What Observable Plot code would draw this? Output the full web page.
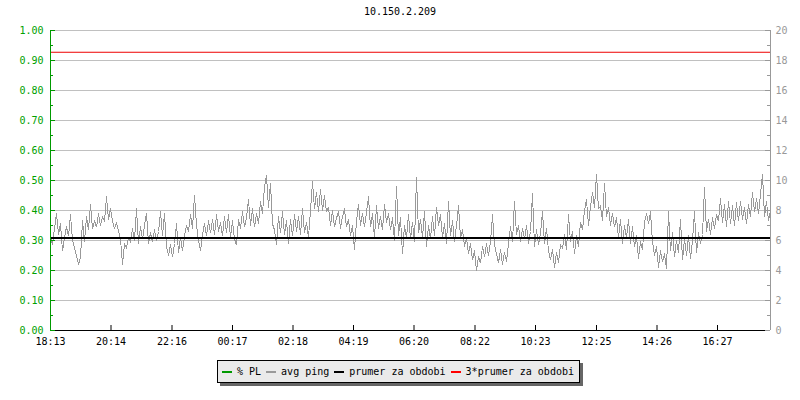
<!DOCTYPE html>
<html>
<head>
<meta charset="utf-8">
<script src="https://cdn.jsdelivr.net/npm/d3@7"></script>
<script src="https://cdn.jsdelivr.net/npm/@observablehq/plot@0.6"></script>
<style>
  html, body { margin: 0; padding: 0; background: #fff; }
  #wrap { position: relative; width: 800px; height: 400px; font-family: "DejaVu Sans Mono", monospace; font-size: 10px; }
  #title { position: absolute; left: 0; top: 6px; width: 800px; text-align: center; color: #000; }
  #legend { position: absolute; left: 217px; top: 360px; height: 21px; width: 361px; box-sizing: content-box;
            background: #eaeaea; border: 1px solid #000; box-shadow: 3px 3px 0 #666; display: flex; align-items: center;
            padding-left: 0; }
  .item { display: flex; align-items: center; margin-left: 4px; margin-right: 1px; white-space: pre; }
  .sw { width: 10px; height: 2px; margin-right: 5px; }
</style>
</head>
<body>
<div id="wrap">
  <div id="chart"></div>
  <div id="title"></div>
  <div id="legend"></div>
</div>
<script>
// ---- data ----
const title = "10.150.2.209";
const stepMinutes = 4;           // sampling interval of the series
const spanMinutes = 1440;        // 24 h window
const avgPing = [
  6.3, 5.7, 6.8, 7.8, 6.4, 7.1, 5.3, 6.2, 6.9, 6.3,
  7.7, 6.0, 5.5, 5.0, 4.4, 4.9, 7.3, 5.9, 7.6, 6.7,
  8.4, 6.8, 7.3, 6.9, 7.8, 7.0, 7.6, 7.3, 8.9, 7.4,
  8.1, 7.3, 6.8, 7.2, 6.6, 6.1, 4.4, 5.8, 5.5, 6.2,
  5.9, 6.8, 6.0, 8.1, 5.8, 6.9, 6.1, 7.0, 7.8, 5.8,
  6.5, 5.9, 6.7, 6.0, 6.6, 7.9, 6.3, 7.8, 5.6, 5.0,
  5.7, 4.9, 5.8, 7.1, 5.2, 6.2, 5.3, 6.3, 7.0, 6.6,
  7.7, 6.8, 9.0, 7.0, 6.0, 5.3, 6.4, 7.1, 6.3, 7.3,
  6.5, 7.4, 6.4, 7.7, 6.6, 7.2, 6.3, 7.6, 6.5, 7.7,
  6.2, 7.3, 6.1, 5.7, 7.4, 6.8, 7.9, 6.9, 7.5, 8.7,
  7.0, 8.1, 6.9, 7.8, 7.1, 8.6, 7.8, 9.6, 10.3, 8.2,
  9.8, 7.1, 6.7, 5.7, 7.6, 6.5, 7.9, 6.4, 7.3, 5.8,
  7.4, 6.3, 7.7, 6.6, 7.6, 6.4, 8.1, 6.5, 7.2, 6.2,
  8.0, 9.9, 8.1, 9.2, 7.9, 9.4, 8.0, 9.0, 7.9, 8.2,
  7.0, 8.0, 6.9, 7.5, 7.9, 6.8, 7.6, 8.1, 6.9, 7.4,
  6.3, 7.0, 5.4, 7.3, 8.4, 7.0, 7.8, 6.9, 7.9, 8.9,
  6.9, 7.8, 6.2, 8.3, 6.8, 7.6, 6.7, 8.4, 7.2, 7.8,
  6.7, 7.5, 6.0, 9.6, 6.3, 7.5, 5.1, 7.0, 6.2, 7.7,
  6.1, 7.2, 5.9, 10.2, 6.5, 7.4, 6.2, 7.9, 5.6, 7.0,
  6.1, 7.6, 6.3, 8.2, 7.0, 7.7, 6.2, 7.1, 5.8, 8.6,
  6.3, 7.3, 5.9, 7.0, 8.3, 6.2, 6.7, 5.6, 6.2, 5.1,
  5.8, 4.7, 5.3, 4.0, 4.9, 4.5, 5.6, 4.9, 5.8, 5.0,
  5.9, 7.7, 5.7, 5.1, 4.5, 5.4, 4.4, 5.2, 4.6, 5.8,
  6.9, 5.9, 8.6, 6.4, 7.0, 5.9, 6.8, 6.1, 7.0, 5.8,
  6.6, 9.1, 5.6, 6.7, 5.7, 6.5, 7.9, 5.8, 6.8, 5.3,
  4.7, 5.4, 4.2, 5.2, 4.5, 5.7, 5.5, 6.4, 5.4, 7.7,
  5.9, 6.6, 5.1, 6.3, 5.6, 7.2, 6.7, 8.0, 8.7, 7.0,
  8.3, 9.2, 8.2, 10.4, 8.1, 8.3, 7.3, 9.8, 7.6, 8.2,
  7.0, 7.8, 6.9, 7.5, 6.2, 7.4, 5.8, 7.0, 6.2, 7.4,
  5.8, 6.9, 5.6, 6.3, 4.8, 5.9, 5.4, 7.2, 7.8, 7.1,
  7.9, 5.9, 5.0, 5.6, 4.2, 5.3, 4.6, 5.1, 4.1, 7.9,
  5.3, 6.5, 4.9, 6.0, 5.2, 7.4, 4.7, 6.1, 5.0, 6.3,
  4.8, 6.0, 7.9, 5.2, 6.5, 5.8, 6.4, 9.5, 6.6, 7.4,
  6.4, 7.5, 6.8, 7.7, 7.3, 8.8, 7.2, 8.4, 6.9, 8.6,
  7.1, 8.3, 7.0, 8.5, 7.3, 8.6, 7.4, 8.2, 7.1, 8.4,
  7.6, 9.2, 7.9, 8.8, 7.8, 9.1, 10.4, 7.6, 8.6, 7.3,
  8.0
];
const meanPing = 6.17;        // prumer za obdobi
const threeMeanPing = 18.55;  // 3*prumer za obdobi
const timeTickMinutes = [0, 121, 243, 364, 485, 606, 727, 849, 970, 1092, 1213, 1334];
const timeTickLabels = ["18:13", "20:14", "22:16", "00:17", "02:18", "04:19", "06:20", "08:22", "10:23", "12:25", "14:26", "16:27"];
const pingTicks = [0, 2, 4, 6, 8, 10, 12, 14, 16, 18, 20];          // right axis (ms)
const plLabels = ["0.00", "0.10", "0.20", "0.30", "0.40", "0.50", "0.60", "0.70", "0.80", "0.90", "1.00"]; // left axis (% PL)
const pingMinorTicks = [1, 3, 5, 7, 9, 11, 13, 15, 17, 19];
const legendItems = [
  { label: "% PL", color: "#009900" },
  { label: "avg ping", color: "#999999" },
  { label: "prumer za obdobi", color: "#000000" },
  { label: "3*prumer za obdobi", color: "#ff0000" }
];

// ---- build ----
const series = avgPing.map((v, i) => ({ t: i * stepMinutes, v }));
const green = "#009900";
const gray = "#999999";

const chart = Plot.plot({
  width: 800,
  height: 400,
  marginLeft: 50,
  marginRight: 30,
  marginTop: 30,
  marginBottom: 70,
  style: { fontFamily: "DejaVu Sans Mono", fontSize: "10px", background: "transparent" },
  x: { domain: [0, spanMinutes], axis: null },
  y: { domain: [0, 20], axis: null },
  marks: [
    Plot.ruleY(pingTicks.slice(1), { stroke: "#c0c0c0", strokeWidth: 1 }),
    Plot.line(series, { x: "t", y: "v", stroke: gray, strokeWidth: 1, shapeRendering: "crispEdges" }),
    Plot.ruleY([meanPing], { stroke: "#000", strokeWidth: 2 }),
    Plot.ruleY([threeMeanPing], { stroke: "#ee0000", strokeWidth: 1 }),
    // axis lines
    Plot.ruleX([0], { stroke: green }),
    Plot.ruleX([spanMinutes], { stroke: gray }),
    Plot.ruleY([0], { stroke: "#000" }),
    // inward ticks
    Plot.ruleY(pingTicks, { x1: 0, x2: 10, stroke: green }),
    Plot.ruleY(pingMinorTicks, { x1: 0, x2: 6, stroke: green }),
    Plot.ruleY(pingTicks, { x1: spanMinutes - 10, x2: spanMinutes, stroke: gray }),
    Plot.ruleY(pingMinorTicks, { x1: spanMinutes - 6, x2: spanMinutes, stroke: gray }),
    Plot.ruleX(timeTickMinutes.slice(1), { y1: 0, y2: 1 / 3, stroke: "#000" }),
    // tick labels
    Plot.axisY(pingTicks, { anchor: "left", label: null, tickSize: 0, tickPadding: 7, color: "#00a000",
      tickFormat: (d) => plLabels[pingTicks.indexOf(d)] }),
    Plot.axisY(pingTicks, { anchor: "right", label: null, tickSize: 0, tickPadding: 5, color: gray,
      tickFormat: (d) => String(d) }),
    Plot.axisX(timeTickMinutes, { anchor: "bottom", label: null, tickSize: 0, tickPadding: 7, color: "#000",
      tickFormat: (d) => timeTickLabels[timeTickMinutes.indexOf(d)] })
  ]
});
document.getElementById("chart").appendChild(chart);
document.getElementById("title").textContent = title;

const legend = document.getElementById("legend");
for (const it of legendItems) {
  const item = document.createElement("div");
  item.className = "item";
  const sw = document.createElement("div");
  sw.className = "sw";
  sw.style.background = it.color;
  const tx = document.createElement("span");
  tx.textContent = it.label;
  item.appendChild(sw);
  item.appendChild(tx);
  legend.appendChild(item);
}
</script>
</body>
</html>
